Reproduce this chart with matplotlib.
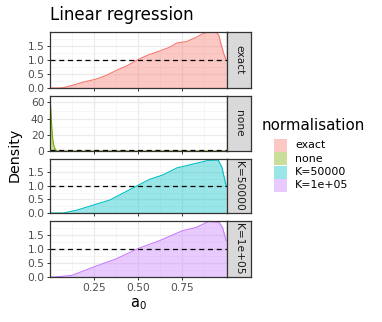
import numpy as np
import matplotlib
matplotlib.use("Agg")
from matplotlib import pyplot as plt
from matplotlib.patches import Rectangle

# values
a0_exact = [0.0, 0.05, 0.076, 0.13, 0.19, 0.265, 0.32, 0.378, 0.44, 0.5, 0.56, 0.625, 0.68, 0.72, 0.775, 0.83, 0.87, 0.91, 0.945, 0.96, 0.97, 0.985, 1.0]
d_exact = [0.0, 0.0, 0.01, 0.1, 0.21, 0.32, 0.45, 0.63, 0.8, 1.01, 1.18, 1.32, 1.45, 1.6, 1.65, 1.8, 1.94, 1.99, 1.98, 1.85, 1.58, 1.25, 0.99]
a0_none = [0.0, 0.005, 0.01, 0.015, 0.02, 0.03, 0.04, 1.0]
d_none = [68.0, 50.0, 30.0, 16.0, 8.0, 2.0, 0.0, 0.0]
a0_k5 = [0.0, 0.076, 0.15, 0.25, 0.34, 0.42, 0.5, 0.565, 0.64, 0.72, 0.81, 0.9, 0.955, 0.975, 0.99, 1.0]
d_k5 = [0.0, 0.0, 0.1, 0.3, 0.48, 0.75, 1.02, 1.24, 1.4, 1.66, 1.8, 1.94, 1.95, 1.7, 1.3, 1.0]
a0_k1 = [0.0, 0.03, 0.125, 0.25, 0.378, 0.5, 0.625, 0.75, 0.83, 0.9, 0.96, 0.98, 1.0]
d_k1 = [0.0, 0.0, 0.06, 0.36, 0.65, 1.01, 1.3, 1.64, 1.76, 1.97, 1.94, 1.75, 1.3]

labels = ["exact", "none", "K=50000", "K=1e+05"]
colors = ["#F8766D", "#7CAE00", "#00BFC4", "#C77CFF"]
series = [(a0_exact, d_exact), (a0_none, d_none), (a0_k5, d_k5), (a0_k1, d_k1)]
ylims = [1.99, 68.0, 1.99, 1.99]
yticks = [[0.0, 0.5, 1.0, 1.5], [0, 20, 40, 60], [0.0, 0.5, 1.0, 1.5], [0.0, 0.5, 1.0, 1.5]]
yminor = [[0.25, 0.75, 1.25, 1.75], [10, 30, 50], [0.25, 0.75, 1.25, 1.75], [0.25, 0.75, 1.25, 1.75]]
xticks = [0.25, 0.50, 0.75]
xminor = [0.125, 0.375, 0.625, 0.875]

W, H = 382, 322
fig = plt.figure(figsize=(W / 100, H / 100), dpi=100)

def box(x0, y0, x1, y1):
    # pixel box (top-left origin) to figure fraction
    return [x0 / W, 1 - y1 / H, (x1 - x0) / W, (y1 - y0) / H]

panels = [(32, 88), (96, 151), (159, 213), (221, 277)]
px_l, px_r, strip_r = 50, 227, 251
border = "#333333"
tick_col = "#4D4D4D"

for i, (top, bot) in enumerate(panels):
    ax = fig.add_axes(box(px_l, top, px_r, bot))
    x, y = series[i]
    ax.fill_between(x, 0, y, color=colors[i], alpha=0.4, lw=0)
    ax.plot(x, y, color=colors[i], lw=0.8)
    ax.axhline(1.0, color="black", ls=(0, (4, 3)), lw=0.9)
    ax.set_xlim(0.0, 1.005)
    ax.set_ylim(0, ylims[i])
    ax.set_yticks(yticks[i])
    if i == 1:
        ax.set_yticklabels([str(v) for v in yticks[i]])
    else:
        ax.set_yticklabels(["%.1f" % v for v in yticks[i]])
    ax.set_yticks(yminor[i], minor=True)
    ax.set_xticks(xticks)
    ax.set_xticks(xminor, minor=True)
    ax.grid(which="major", color="#EBEBEB", lw=0.9)
    ax.grid(which="minor", color="#F3F3F3", lw=0.5)
    ax.set_axisbelow(True)
    ax.tick_params(which="minor", length=0)
    ax.tick_params(which="major", length=2.5, width=0.7, color=border,
                   labelsize=7.7, labelcolor=tick_col, pad=1.5)
    if i < 3:
        ax.tick_params(axis="x", labelbottom=False)
    else:
        ax.set_xticklabels(["0.25", "0.50", "0.75"])
    for s in ax.spines.values():
        s.set_color(border)
        s.set_linewidth(0.9)

    st = fig.add_axes(box(px_r, top, strip_r, bot))
    st.set_xticks([])
    st.set_yticks([])
    st.set_facecolor("#D9D9D9")
    for s in st.spines.values():
        s.set_color(border)
        s.set_linewidth(0.9)
    st.text(0.5, 0.5, labels[i], rotation=-90, ha="center", va="center",
            fontsize=7.7, color="#1A1A1A", transform=st.transAxes)

fig.text(px_l / W, 1 - 20 / H, "Linear regression", fontsize=12, ha="left", va="baseline")
fig.text(15 / W, 1 - 155 / H, "Density", rotation=90, fontsize=10.3, ha="center", va="center")
fig.text(138.5 / W, 1 - 304 / H, "$\\mathregular{a_0}$", fontsize=10.5, ha="center", va="center")

# legend drawn by hand
fig.text(262 / W, 1 - 126 / H, "normalisation", fontsize=10.8, ha="left", va="center")
key_y = [145.5, 158.5, 172, 185.5]
for lab, c, yc in zip(labels, colors, key_y):
    fig.patches.append(Rectangle((274 / W, 1 - (yc + 6.5) / H), 13 / W, 13 / H,
                                 facecolor=c, alpha=0.4, edgecolor="none",
                                 transform=fig.transFigure, figure=fig))
    fig.text(295 / W, 1 - yc / H, lab, fontsize=7.9, ha="left", va="center")

fig.savefig("out.png", dpi=100)
